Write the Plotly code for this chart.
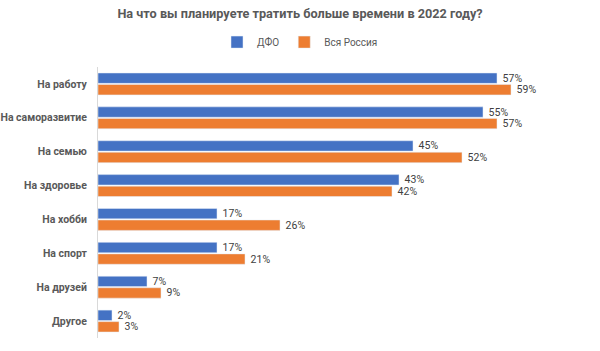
import plotly.graph_objects as go

categories = ["На работу", "На саморазвитие", "На семью", "На здоровье", "На хобби", "На спорт", "На друзей", "Другое"]
dfo = [57, 55, 45, 43, 17, 17, 7, 2]
russia = [59, 57, 52, 42, 26, 21, 9, 3]
dfo_labels = [f"{v}%" for v in dfo]
russia_labels = [f"{v}%" for v in russia]

FONT = "Roboto, Open Sans, sans-serif"

fig = go.Figure()
fig.add_trace(go.Bar(
    y=categories, x=dfo, name="ДФО", orientation="h",
    marker=dict(color="#4472C4"),
    text=dfo_labels, texttemplate="\u00a0%{text}", textposition="outside",
    cliponaxis=False, constraintext="none",
    textfont=dict(family=FONT, size=10.5, color="#404040"),
))
fig.add_trace(go.Bar(
    y=categories, x=russia, name="Вся Россия", orientation="h",
    marker=dict(color="#ED7D31"),
    text=russia_labels, texttemplate="\u00a0%{text}", textposition="outside",
    cliponaxis=False, constraintext="none",
    textfont=dict(family=FONT, size=10.5, color="#404040"),
))

fig.update_layout(
    width=600, height=351,
    margin=dict(l=98, r=12, t=67, b=13),
    paper_bgcolor="white", plot_bgcolor="white",
    barmode="group", bargap=0.32, bargroupgap=0.1,
    title=dict(text="<b>На что вы планируете тратить больше времени в 2022 году?</b>",
               x=0.5, xref="container", xanchor="center",
               y=0.96, yref="container", yanchor="middle",
               font=dict(family=FONT, size=12.7, color="#595959")),
    legend=dict(orientation="h", x=0.5, xref="container", xanchor="center",
                y=0.88, yref="container", yanchor="middle",
                font=dict(family=FONT, size=10, color="#595959"),
                itemwidth=30, traceorder="normal"),
    showlegend=True,
)
fig.update_xaxes(range=[0, 70], visible=False, showgrid=False, zeroline=False)
fig.update_yaxes(autorange="reversed", showgrid=False, zeroline=False, automargin=False,
                 showline=True, linecolor="#D9D9D9", linewidth=1,
                 ticks="", ticklabelstandoff=8,
                 tickfont=dict(family=FONT, size=10.5, color="#595959", weight="bold"))

fig.write_html("out.html")
